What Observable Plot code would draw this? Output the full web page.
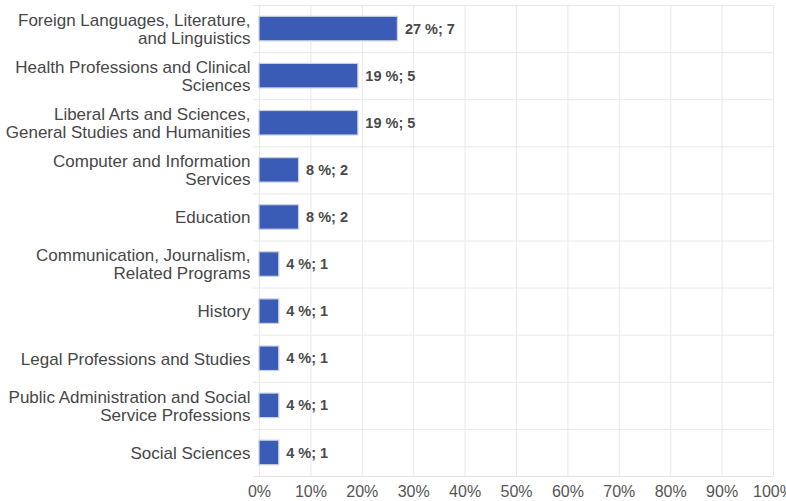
<!DOCTYPE html>
<html>
<head>
<meta charset="utf-8">
<script src="https://cdn.jsdelivr.net/npm/d3@7"></script>
<script src="https://cdn.jsdelivr.net/npm/@observablehq/plot@0.6"></script>
<style>
  html, body { margin: 0; padding: 0; background: #fff; }
  #chart svg { display: block; }
</style>
</head>
<body>
<div id="chart"></div>
<script>
const categories = [
  "Foreign Languages, Literature,\nand Linguistics",
  "Health Professions and Clinical\nSciences",
  "Liberal Arts and Sciences,\nGeneral Studies and Humanities",
  "Computer and Information\nServices",
  "Education",
  "Communication, Journalism,\nRelated Programs",
  "History",
  "Legal Professions and Studies",
  "Public Administration and Social\nService Professions",
  "Social Sciences"
];
const counts = [7, 5, 5, 2, 2, 1, 1, 1, 1, 1];
const percents = [27, 19, 19, 8, 8, 4, 4, 4, 4, 4];
const xTicks = [0, 10, 20, 30, 40, 50, 60, 70, 80, 90, 100];

const total = d3.sum(counts);
const data = categories.map((c, i) => ({
  category: c,
  share: counts[i] / total * 100,
  label: `${percents[i]} %; ${counts[i]}`
}));

const height = 501, marginTop = 5, marginBottom = 25;
const step = (height - marginTop - marginBottom) / categories.length;

const chart = Plot.plot({
  width: 786,
  height,
  marginLeft: 259,
  marginRight: 13,
  marginTop,
  marginBottom,
  style: { fontFamily: "'Liberation Sans', Arial, sans-serif", color: "#444", background: "#fff" },
  x: { domain: [0, 100], ticks: xTicks, tickFormat: d => d + "%" },
  y: { domain: categories, paddingInner: 0.48, paddingOuter: 0.24, round: false },
  marks: [
    Plot.ruleX(xTicks, { x: d => d, stroke: "#e9e9e9", strokeWidth: 1 }),
    Plot.ruleY(categories, { y: d => d, dy: -step / 2, stroke: "#e9e9e9", x1: -1.2, x2: 100 }),
    Plot.ruleY(categories.slice(-1), { y: d => d, dy: step / 2, stroke: "#e3e3e3", x1: -1.2, x2: 100 }),
    Plot.barX(data, {
      x: "share", y: "category",
      fill: "#3a5cb6", stroke: "#c9d0e2", strokeWidth: 1.2
    }),
    Plot.text(data, {
      x: "share", y: "category", text: "label",
      textAnchor: "start", dx: 7, fontWeight: "bold", fontSize: 14.5, fill: "#4a4a4a"
    }),
    Plot.axisY({ tickSize: 0, tickPadding: 9, fontSize: 17, fill: "#474747", label: null, lineHeight: 1.07 }),
    Plot.axisX(xTicks, { tickSize: 0, tickPadding: 9, fontSize: 16, fill: "#555", label: null, tickFormat: d => d + "%" })
  ]
});
document.getElementById("chart").appendChild(chart);
</script>
</body>
</html>
